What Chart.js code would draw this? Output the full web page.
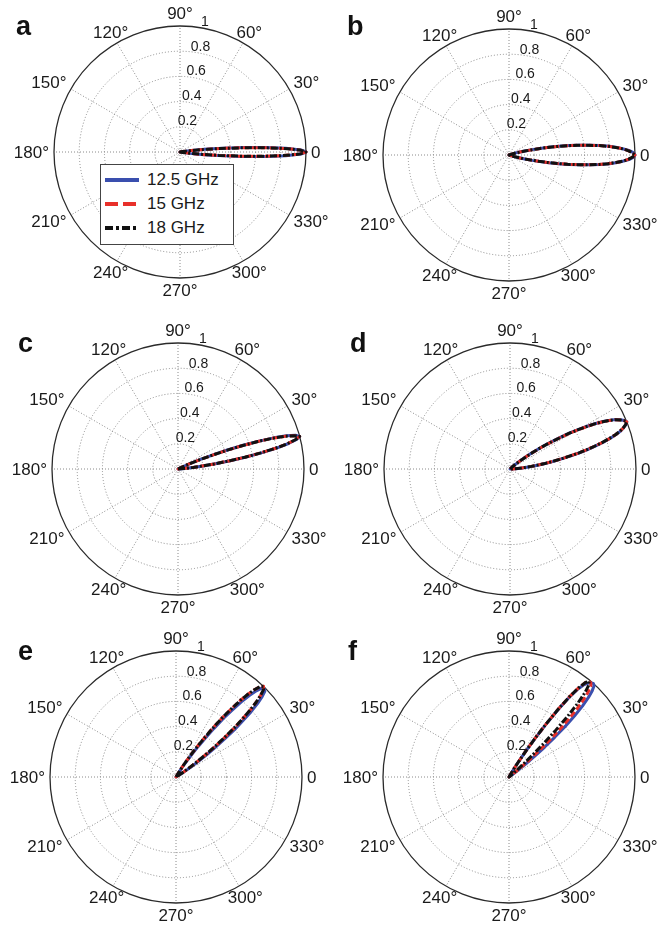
<!DOCTYPE html>
<html>
<head>
<meta charset="utf-8">
<script src="https://cdn.jsdelivr.net/npm/chart.js@4.4.0/dist/chart.umd.min.js"></script>
<style>
*{box-sizing:border-box;margin:0;padding:0}
body{background:#fff;font-family:"Liberation Sans",Arial,sans-serif;color:#1a1a1a}
#page{position:relative;width:670px;height:926px;overflow:hidden}
.cell{position:absolute}
.tag{position:absolute;font-weight:bold;font-size:27px;line-height:1;color:#111}
.legend{position:absolute;left:100px;top:164px;width:134px;height:81px;background:#fff;border:1px solid #444;padding:3px 0 0 4px}
.legend div{display:flex;align-items:center;height:24px;font-size:17px}
.legend svg{margin-right:8px}
</style>
</head>
<body>
<div id="page"></div>
<script>
// angular and radial tick labels
const angleLabels = ["0", "30°", "60°", "90°", "120°", "150°", "180°", "210°", "240°", "270°", "300°", "330°"];
const radialTicks = [0.2, 0.4, 0.6, 0.8, 1];
const radialTickLabels = ["0.2", "0.4", "0.6", "0.8", "1"];
const seriesNames = ["12.5 GHz", "15 GHz", "18 GHz"];
const seriesColors = ["#3a4fae", "#e8302a", "#111111"];
const seriesDash = [[], [6, 3], [7, 2, 2, 2]];
const legendDash = ["none", "13,5", "8,3,3,3"];

// a: beam at 0°
const aDeg = [-9, -8, -7, -6, -5, -4, -3, -2, -1, 0, 1, 2, 3, 4, 5, 6, 7, 8, 9];
const a125 = [0.03, 0.06, 0.13, 0.22, 0.35, 0.51, 0.68, 0.84, 0.96, 1.00, 0.96, 0.84, 0.68, 0.51, 0.35, 0.22, 0.13, 0.06, 0.03];
const a150 = [0.02, 0.05, 0.11, 0.20, 0.32, 0.48, 0.66, 0.82, 0.95, 1.00, 0.95, 0.82, 0.66, 0.48, 0.32, 0.20, 0.11, 0.05, 0.02];
const a180 = [0.02, 0.05, 0.10, 0.19, 0.31, 0.47, 0.65, 0.82, 0.95, 1.00, 0.95, 0.82, 0.65, 0.47, 0.31, 0.19, 0.10, 0.05, 0.02];

// b: beam at 0°, wider
const bDeg = [-18, -17, -16, -15, -14, -13, -12, -11, -10, -9, -8, -7, -6, -5, -4, -3, -2, -1, 0, 1, 2, 3, 4, 5, 6, 7, 8, 9, 10, 11, 12, 13, 14, 15, 16, 17, 18];
const b125 = [0.03, 0.05, 0.07, 0.10, 0.14, 0.19, 0.25, 0.32, 0.40, 0.48, 0.56, 0.64, 0.73, 0.80, 0.86, 0.91, 0.96, 0.99, 1.00, 0.99, 0.96, 0.91, 0.86, 0.80, 0.73, 0.64, 0.56, 0.48, 0.40, 0.32, 0.25, 0.19, 0.14, 0.10, 0.07, 0.05, 0.03];
const b150 = [0.03, 0.044, 0.063, 0.09, 0.13, 0.18, 0.24, 0.31, 0.39, 0.47, 0.55, 0.63, 0.72, 0.79, 0.856, 0.91, 0.95, 0.983, 1.00, 0.983, 0.95, 0.91, 0.856, 0.79, 0.72, 0.63, 0.55, 0.47, 0.39, 0.31, 0.24, 0.18, 0.13, 0.09, 0.063, 0.044, 0.03];
const b180 = [0.02, 0.04, 0.06, 0.09, 0.13, 0.18, 0.24, 0.31, 0.39, 0.47, 0.55, 0.63, 0.72, 0.79, 0.85, 0.91, 0.95, 0.98, 1.00, 0.98, 0.95, 0.91, 0.85, 0.79, 0.72, 0.63, 0.55, 0.47, 0.39, 0.31, 0.24, 0.18, 0.13, 0.09, 0.06, 0.04, 0.02];

// c: beam at 15°
const cDeg = [4, 5, 6, 7, 8, 9, 10, 11, 12, 13, 14, 15, 16, 17, 18, 19, 20, 21, 22, 23, 24, 25, 26];
const c125 = [0.03, 0.07, 0.13, 0.20, 0.30, 0.42, 0.55, 0.68, 0.80, 0.90, 0.97, 1.00, 0.97, 0.90, 0.80, 0.68, 0.55, 0.42, 0.30, 0.20, 0.13, 0.07, 0.03];
const c150 = [0.03, 0.06, 0.12, 0.19, 0.29, 0.41, 0.54, 0.67, 0.79, 0.89, 0.96, 1.00, 0.96, 0.89, 0.79, 0.67, 0.54, 0.41, 0.29, 0.19, 0.12, 0.06, 0.03];
const c180 = [0.02, 0.06, 0.12, 0.19, 0.29, 0.41, 0.54, 0.67, 0.79, 0.89, 0.96, 1.00, 0.96, 0.89, 0.79, 0.67, 0.54, 0.41, 0.29, 0.19, 0.12, 0.06, 0.02];

// d: beam near 22°, wide
const dDeg = [2, 3, 4, 5, 6, 7, 8, 9, 10, 11, 12, 13, 14, 15, 16, 17, 18, 19, 20, 21, 22, 23, 24, 25, 26, 27, 28, 29, 30, 31, 32, 33, 34, 35, 36, 37, 38, 39, 40, 41, 42];
const d125 = [0.03, 0.045, 0.07, 0.10, 0.135, 0.18, 0.23, 0.29, 0.35, 0.41, 0.48, 0.56, 0.63, 0.70, 0.77, 0.83, 0.885, 0.93, 0.96, 0.985, 1.00, 0.985, 0.96, 0.93, 0.885, 0.83, 0.77, 0.70, 0.63, 0.56, 0.48, 0.41, 0.35, 0.29, 0.23, 0.18, 0.135, 0.10, 0.07, 0.045, 0.03];
const d150 = [0.025, 0.04, 0.065, 0.09, 0.125, 0.17, 0.22, 0.28, 0.34, 0.40, 0.47, 0.55, 0.62, 0.69, 0.764, 0.825, 0.88, 0.926, 0.958, 0.983, 1.00, 0.983, 0.958, 0.926, 0.88, 0.825, 0.764, 0.69, 0.62, 0.55, 0.47, 0.40, 0.34, 0.28, 0.22, 0.17, 0.125, 0.09, 0.065, 0.04, 0.025];
const d180 = [0.02, 0.04, 0.06, 0.09, 0.12, 0.17, 0.22, 0.28, 0.34, 0.40, 0.47, 0.55, 0.62, 0.69, 0.76, 0.82, 0.88, 0.925, 0.958, 0.983, 1.00, 0.983, 0.958, 0.926, 0.88, 0.826, 0.766, 0.695, 0.625, 0.555, 0.475, 0.405, 0.345, 0.285, 0.225, 0.175, 0.13, 0.095, 0.07, 0.045, 0.03];

// e: beam near 46°
const eDeg = [32, 33, 34, 35, 36, 37, 38, 39, 40, 41, 42, 43, 44, 45, 46, 47, 48, 49, 50, 51, 52, 53, 54, 55, 56, 57, 58, 59, 60];
const e125 = [0.06, 0.10, 0.15, 0.22, 0.30, 0.385, 0.49, 0.60, 0.69, 0.79, 0.87, 0.935, 0.98, 0.99, 0.98, 0.935, 0.87, 0.79, 0.69, 0.60, 0.49, 0.385, 0.30, 0.22, 0.15, 0.10, 0.06, 0.03, 0.01];
const e150 = [0.03, 0.06, 0.10, 0.15, 0.22, 0.30, 0.385, 0.49, 0.60, 0.69, 0.79, 0.87, 0.935, 0.983, 1.00, 0.983, 0.935, 0.87, 0.79, 0.69, 0.60, 0.49, 0.385, 0.30, 0.22, 0.15, 0.10, 0.06, 0.03];
const e180 = [0.03, 0.055, 0.09, 0.14, 0.21, 0.29, 0.38, 0.48, 0.59, 0.69, 0.785, 0.87, 0.935, 0.983, 1.00, 0.983, 0.935, 0.87, 0.79, 0.69, 0.60, 0.49, 0.385, 0.30, 0.22, 0.15, 0.10, 0.06, 0.03];

// f: beams spread between 48° and 50°
const fDeg = [35, 36, 37, 38, 39, 40, 41, 42, 43, 44, 45, 46, 47, 48, 49, 50, 51, 52, 53, 54, 55, 56, 57, 58, 59, 60];
const f125 = [0.02, 0.05, 0.10, 0.17, 0.26, 0.37, 0.48, 0.60, 0.71, 0.81, 0.89, 0.95, 0.99, 1.00, 0.99, 0.97, 0.94, 0.88, 0.78, 0.65, 0.50, 0.36, 0.24, 0.13, 0.07, 0.03];
const f150 = [0, 0, 0.03, 0.06, 0.12, 0.20, 0.30, 0.41, 0.53, 0.65, 0.76, 0.85, 0.92, 0.97, 0.99, 0.99, 0.965, 0.90, 0.80, 0.67, 0.52, 0.38, 0.25, 0.14, 0.08, 0.03];
const f180 = [0, 0, 0, 0, 0, 0.03, 0.08, 0.14, 0.25, 0.38, 0.52, 0.67, 0.80, 0.90, 0.965, 0.99, 0.965, 0.90, 0.80, 0.67, 0.52, 0.38, 0.25, 0.14, 0.08, 0.03];

const panels = [
  { tag: "a", left: 12, top: 0, deg: aDeg, series: [a125, a150, a180] },
  { tag: "b", left: 341, top: 3, deg: bDeg, series: [b125, b150, b180] },
  { tag: "c", left: 10, top: 317, deg: cDeg, series: [c125, c150, c180] },
  { tag: "d", left: 342, top: 317, deg: dDeg, series: [d125, d150, d180] },
  { tag: "e", left: 8, top: 625, deg: eDeg, series: [e125, e150, e180] },
  { tag: "f", left: 341, top: 625, deg: fDeg, series: [f125, f150, f180] }
];
const tagPos = [[16, 13], [347, 13], [18, 330], [350, 330], [18, 638], [348, 638]];

// radar index 0 sits at the top and runs clockwise; map polar degrees onto it
const slot = d => ((90 - d) % 360 + 360) % 360;

const labels = new Array(360).fill("");
angleLabels.forEach((t, k) => { labels[slot(k * 30)] = t; });

function polarRow(degs, radii) {
  const row = new Array(360).fill(0);
  degs.forEach((d, k) => { row[slot(d)] = radii[k]; });
  return row;
}

const fontFamily = '"Liberation Sans", Arial, sans-serif';

// angle labels just outside the rim, radial ticks along the 80° spoke
const polarText = {
  id: "polarText",
  afterDatasetsDraw(chart) {
    const r = chart.scales.r, ctx = chart.ctx;
    ctx.save();
    ctx.fillStyle = "#1a1a1a";
    ctx.textAlign = "center";
    ctx.textBaseline = "bottom";
    ctx.font = "14px " + fontFamily;
    radialTicks.forEach((v, k) => {
      const p = r.getPointPositionForValue(slot(80), v);
      ctx.fillText(radialTickLabels[k], p.x + 3, p.y + 1);
    });
    ctx.textBaseline = "middle";
    ctx.font = "17px " + fontFamily;
    angleLabels.forEach((t, k) => {
      const idx = slot(k * 30);
      const far = r.getPointPositionForValue(idx, 1.1);
      const near = r.getPointPositionForValue(idx, 1.04);
      const dx = (far.x - r.xCenter) / (1.1 * r.drawingArea);
      let x = far.x;
      if (dx > 0.6) { ctx.textAlign = "left"; x = near.x; }
      else if (dx < -0.6) { ctx.textAlign = "right"; x = near.x; }
      else ctx.textAlign = "center";
      ctx.fillText(t, x, far.y + 1);
    });
    ctx.restore();
  }
};

const page = document.getElementById("page");

panels.forEach((p, n) => {
  const cell = document.createElement("div");
  cell.className = "cell";
  cell.style.left = p.left + "px";
  cell.style.top = p.top + "px";
  const cv = document.createElement("canvas");
  cv.width = 335; cv.height = 304;
  cell.appendChild(cv);
  page.appendChild(cell);

  const tag = document.createElement("div");
  tag.className = "tag";
  tag.textContent = p.tag;
  tag.style.left = tagPos[n][0] + "px";
  tag.style.top = tagPos[n][1] + "px";
  page.appendChild(tag);

  new Chart(cv, {
    type: "radar",
    data: {
      labels: labels,
      datasets: p.series.map((vals, s) => ({
        label: seriesNames[s],
        data: polarRow(p.deg, vals),
        borderColor: seriesColors[s],
        borderDash: seriesDash[s],
        borderWidth: 3,
        borderJoinStyle: "round",
        fill: false,
        pointRadius: 0,
        tension: 0,
        order: 2 - s
      }))
    },
    options: {
      responsive: false,
      animation: false,
      layout: { padding: { top: 26, bottom: 26, left: 42, right: 41 } },
      plugins: { legend: { display: false }, tooltip: { enabled: false } },
      scales: {
        r: {
          min: 0, max: 1,
          ticks: { stepSize: 0.2, display: false },
          grid: {
            circular: true,
            color: c => c.index === 5 ? "#2a2a2a" : "#8a8a8a",
            lineWidth: c => c.index === 5 ? 1.3 : 1
          },
          border: { dash: c => c.index === 5 ? [] : [1, 2] },
          angleLines: {
            color: c => c.index % 30 === 0 ? "#8a8a8a" : "rgba(0,0,0,0)",
            lineWidth: c => c.index % 30 === 0 ? 1 : 0,
            borderDash: [1, 2]
          },
          pointLabels: { display: false }
        }
      }
    },
    plugins: [polarText]
  });
});

// legend inside panel a
const legend = document.createElement("div");
legend.className = "legend";
seriesNames.forEach((name, s) => {
  const row = document.createElement("div");
  row.innerHTML = '<svg width="34" height="6"><line x1="0" y1="3" x2="34" y2="3" stroke="' +
    seriesColors[s] + '" stroke-width="4" stroke-dasharray="' + legendDash[s] + '"/></svg><span>' + name + "</span>";
  legend.appendChild(row);
});
page.appendChild(legend);
</script>
</body>
</html>
